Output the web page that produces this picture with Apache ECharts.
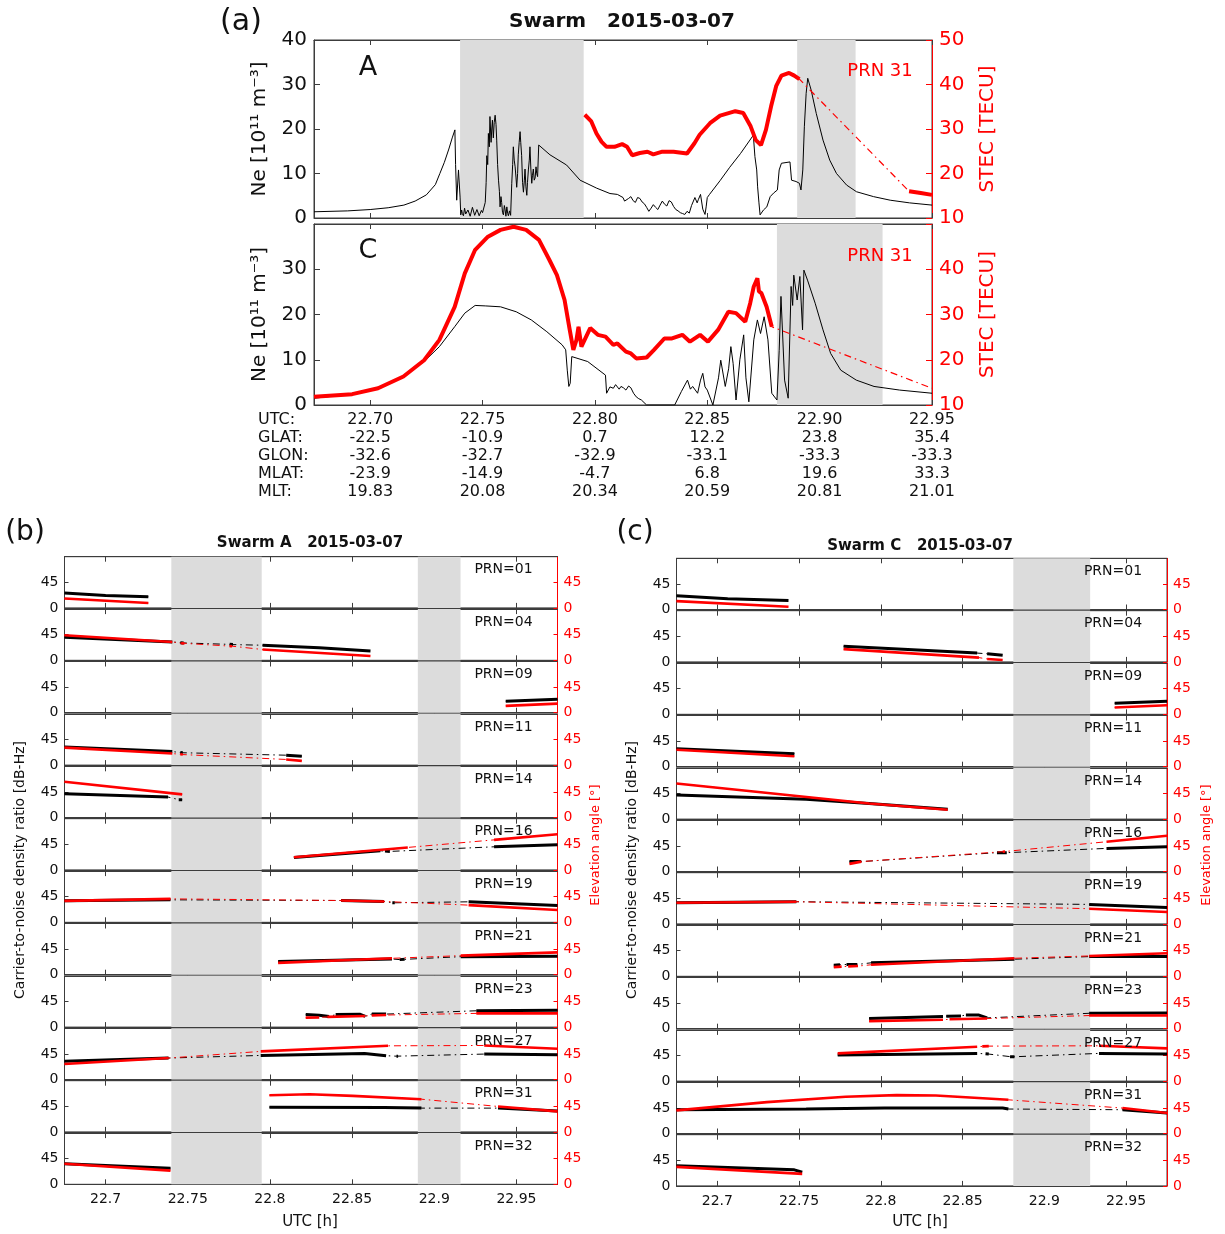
<!DOCTYPE html>
<html><head><meta charset="utf-8">
<script src="https://cdn.jsdelivr.net/npm/echarts@6/dist/echarts.min.js"></script>
<style>html,body{margin:0;padding:0;background:#fff}#chart{width:1225px;height:1234px}</style>
</head><body><div id="chart"></div>
<script>
// ---------------- DATA ----------------
const utcTicks = [22.70, 22.75, 22.80, 22.85, 22.90, 22.95];
const glatRow = ['-22.5', '-10.9', '0.7', '12.2', '23.8', '35.4'];
const glonRow = ['-32.6', '-32.7', '-32.9', '-33.1', '-33.3', '-33.3'];
const mlatRow = ['-23.9', '-14.9', '-4.7', '6.8', '19.6', '33.3'];
const mltRow = ['19.83', '20.08', '20.34', '20.59', '20.81', '21.01'];
const rowHeads = ['UTC:', 'GLAT:', 'GLON:', 'MLAT:', 'MLT:'];
const satTicks = [22.7, 22.75, 22.8, 22.85, 22.9, 22.95];
const satTickLabels = ['22.7', '22.75', '22.8', '22.85', '22.9', '22.95'];
const elevTicks = [0, 45];
const prnNames = ['01', '04', '09', '11', '14', '16', '19', '21', '23', '27', '31', '32'];

const shadeA = [[22.740, 22.795], [22.890, 22.916]];
const shadeC = [[22.881, 22.928]];

// Panel (a) Swarm A: electron density [1e11 m^-3]
const neA = [[22.675,1.4],[22.690,1.6],[22.700,1.9],[22.708,2.3],[22.715,2.9],[22.720,3.8],[22.725,5.2],[22.729,7.5],[22.731,10.0],[22.733,12.5],[22.735,15.5],[22.7365,18.0],[22.7377,19.8],
[22.7380,12.0],[22.7385,4.0],[22.7393,10.8],[22.7400,4.7],[22.7403,0.7],[22.7407,1.8],[22.741,1.0],[22.7415,0.5],[22.742,2.2],[22.7425,0.9],[22.743,0.6],[22.7435,1.8],[22.744,1.5],[22.7445,0.4],[22.745,0.8],[22.7455,2.4],[22.746,2.0],[22.7465,0.6],[22.747,0.7],[22.7475,1.9],[22.748,1.6],[22.7485,0.5],[22.749,0.9],[22.7495,1.7],[22.750,1.2],[22.7508,0.8],
[22.7512,3.5],[22.7516,8],[22.7519,14],[22.7523,12],[22.7526,19],[22.753,16],[22.7533,22.8],[22.7538,17],[22.7541,20],[22.7544,22],[22.7548,18],[22.7552,21.5],[22.7556,23.1],[22.756,21],[22.7563,17.5],[22.7567,12],[22.7571,8.5],[22.7575,6],[22.7578,2.5],[22.7582,4.8],[22.7585,3.5],[22.7589,1.2],[22.7593,0.7],[22.7597,2.8],[22.760,2.0],[22.7604,0.4],[22.7608,2.5],[22.7612,1.0],[22.7615,0.5],[22.762,1.6],[22.7625,0.6],[22.7630,7.8],[22.7634,12],[22.7637,16],[22.7641,13],[22.7645,11.5],[22.7649,9],[22.7652,6.9],[22.7656,10],[22.7659,14.2],[22.7663,17],[22.7667,19.4],[22.767,17],[22.7674,14],[22.7678,8],[22.7682,5.8],[22.7686,8.5],[22.7689,11],[22.7693,7],[22.7697,5.1],[22.770,8],[22.7704,10.8],[22.7708,13],[22.7711,16],[22.7715,11],[22.7719,7.8],[22.7722,9.5],[22.7726,11],[22.773,8.5],[22.7734,9],[22.7738,11.5],[22.7741,10],[22.7745,9.3],[22.7750,16.4],
[22.780,14.2],[22.7874,11.9],[22.7934,8.5],[22.8008,6.7],[22.8067,5.5],[22.810,5.3],
[22.8125,4.6],[22.8132,3.8],[22.814,3.6],[22.815,4.4],[22.816,4.8],[22.817,3.9],[22.818,3.5],[22.819,4.6],[22.820,4.4],[22.821,3.6],[22.822,3.2],[22.823,2.4],[22.824,1.5],[22.825,2.2],[22.826,3.0],[22.827,2.4],[22.828,1.9],[22.829,2.9],[22.830,3.8],[22.831,3.1],[22.832,2.7],[22.833,3.9],[22.834,3.6],[22.835,2.6],[22.836,1.9],[22.837,1.6],[22.838,1.2],[22.839,1.0],[22.840,0.8],[22.841,1.5],[22.842,1.1],[22.843,2.8],[22.8445,4.6],[22.8455,3.4],[22.846,4.1],[22.847,5.3],[22.848,2.0],[22.849,0.8],[22.8495,2.5],[22.850,4.6],[22.851,5.3],
[22.8557,8.4],[22.860,11.4],[22.8648,14.5],[22.8705,18.6],
[22.8712,13.8],[22.8720,10.8],[22.8724,7.0],[22.873,3.4],[22.8735,0.7],[22.875,1.8],[22.8765,2.5],[22.878,4.8],[22.8795,5.6],[22.8812,6.3],[22.882,10.8],[22.883,12.3],[22.8868,12.6],[22.8875,8.5],[22.8895,8.2],[22.891,7.8],[22.8917,6.3],[22.8925,10.8],[22.8932,20.5],[22.894,28],[22.8947,31.4],[22.8962,28.8],[22.8985,23.5],[22.9015,17.5],[22.9045,13.0],[22.9075,10.0],[22.912,7.4],[22.9164,5.9],[22.924,4.8],[22.9314,4.0],[22.940,3.4],[22.950,2.9]];
// Panel (a) Swarm A: STEC PRN 31 [TECU], segments
const stecA = [
 [[22.7955,33.2],[22.7984,31.7],[22.8007,29.0],[22.803,27.1],[22.8052,26.0],[22.8087,26.0],[22.8121,26.6],[22.8143,26.0],[22.8166,24.1],[22.820,24.6],[22.8234,24.9],[22.826,24.3],[22.830,24.9],[22.835,24.9],[22.841,24.5],[22.8443,26.8],[22.8466,28.7],[22.8512,31.3],[22.8557,33.0],[22.8625,34.0],[22.866,33.6],[22.8693,30.6],[22.8716,27.5],[22.8739,26.4],[22.8761,29.8],[22.8784,35.1],[22.8807,39.7],[22.883,42.0],[22.8864,42.6],[22.8887,42.0],[22.891,41.2]],
 [[22.9398,16.0],[22.945,15.6],[22.95,15.2]]];
// Panel (a) Swarm C
const neC = [[22.675,1.5],[22.692,2.4],[22.7035,3.7],[22.7148,6.3],[22.724,9.6],[22.7308,12.9],[22.7376,17.3],[22.7421,20.3],[22.7467,22.0],[22.7512,21.9],[22.758,21.7],[22.765,20.6],[22.7717,18.8],[22.7786,16.2],[22.7854,13.3],[22.787,12.2],[22.7877,7.7],[22.7884,4.1],[22.789,4.8],[22.7897,10.7],[22.7968,9.6],[22.8047,6.6],[22.8052,2.6],[22.8067,4.0],[22.8082,3.7],[22.8092,4.5],[22.810,4.3],[22.8108,3.5],[22.8116,4.1],[22.8127,3.8],[22.8138,3.3],[22.815,4.2],[22.816,3.8],[22.8172,2.6],[22.8184,1.8],[22.8195,1.4],[22.8207,1.1],[22.823,0],[22.8355,0],[22.8385,3.0],[22.8412,5.5],[22.8425,3.5],[22.8435,4.1],[22.8457,2.6],[22.847,5.5],[22.848,7.0],[22.849,4.0],[22.850,3.3],[22.8525,0],[22.855,6.0],[22.856,9.9],[22.858,4.1],[22.8595,8.0],[22.8605,12.9],[22.8615,9.2],[22.8628,1.1],[22.8645,10.0],[22.8662,15.5],[22.8672,6.0],[22.8685,0.7],[22.8707,14.4],[22.8723,18.8],[22.8737,15.8],[22.8753,19.5],[22.877,14.4],[22.8787,2.6],[22.881,1.1],[22.882,12.0],[22.8828,24.0],[22.8844,5.5],[22.886,1.5],[22.8873,26.2],[22.888,22.0],[22.8885,28.7],[22.890,23.2],[22.8912,28.4],[22.8924,16.6],[22.893,29.8],[22.8946,27.6],[22.898,22.5],[22.9015,16.6],[22.9049,11.4],[22.9094,7.7],[22.9163,5.5],[22.9242,4.1],[22.9356,3.3],[22.95,2.6]];
const stecC = [
 [[22.675,11.8],[22.692,12.4],[22.7035,13.7],[22.7148,16.3],[22.724,19.9],[22.7308,24.4],[22.7376,31.7],[22.7421,39.1],[22.7467,44.3],[22.7524,47.2],[22.758,48.7],[22.7638,49.4],[22.7694,48.7],[22.7751,46.5],[22.7797,42.1],[22.7831,38.7],[22.7865,33.2],[22.7888,26.6],[22.7904,22.2],[22.7918,24.4],[22.7927,27.3],[22.794,22.9],[22.7979,27.0],[22.8013,25.5],[22.8047,25.1],[22.8082,23.3],[22.810,23.6],[22.8138,21.8],[22.816,21.4],[22.8184,20.3],[22.823,20.5],[22.8263,22.2],[22.8309,24.7],[22.8343,24.7],[22.8389,25.5],[22.8423,24.0],[22.8468,25.5],[22.8503,24.0],[22.8548,26.6],[22.8594,30.6],[22.8628,30.3],[22.8669,28.4],[22.8691,32.5],[22.8707,36.2],[22.8723,38.0],[22.873,35.1],[22.8741,34.7],[22.8764,31.7],[22.8787,27.3]],
 [[22.95,13.7]]];

// Panel (b) Swarm A: C/N0 [dB-Hz] and elevation [deg], segments per PRN
const sA01_cn0 = [[[22.675,26],[22.700,22],[22.726,19.5]]];
const sA01_el  = [[[22.675,16.4],[22.726,8.5]]];
const sA04_cn0 = [[[22.675,40.4],[22.7406,32.3]],[[22.7455,31],[22.7475,30.5]],[[22.7755,28],[22.7775,27.6]],[[22.7955,26.5],[22.83,22],[22.8612,16.2]]];
const sA04_el  = [[[22.675,44],[22.7406,32.3]],[[22.746,30],[22.748,29.8]],[[22.7755,25],[22.777,24.8]],[[22.7955,19],[22.8612,7.5]]];
const sA09_cn0 = [[[22.9435,20],[22.975,23.5]]];
const sA09_el  = [[[22.9435,12],[22.975,16]]];
const sA11_cn0 = [[[22.675,32],[22.7406,23.8]],[[22.7455,22],[22.747,21.7]],[[22.8099,17.4],[22.8194,15.7]]];
const sA11_el  = [[[22.675,30.8],[22.7406,20.3]],[[22.7455,19],[22.747,18.5]],[[22.8099,9.9],[22.8194,7.5]]];
const sA14_cn0 = [[[22.675,41.8],[22.738,36]],[[22.7445,31.4],[22.7466,31.4]]];
const sA14_el  = [[[22.675,62.7],[22.7466,40.6]]];
const sA16_cn0 = [[[22.8146,22],[22.8672,33.7]],[[22.87,33],[22.873,32.5]],[[22.9364,40.6],[22.975,44]]];
const sA16_el  = [[[22.8146,22.1],[22.8839,39.5]],[[22.9364,52.8],[22.975,62.7]]];
const sA19_cn0 = [[[22.675,37.7],[22.7395,39.5]],[[22.8433,38.3],[22.8695,36.6]],[[22.8745,34.5],[22.876,34.3]],[[22.9209,36],[22.975,29.6]]];
const sA19_el  = [[[22.675,37.7],[22.7395,41.2]],[[22.8433,38.3],[22.8695,36.6]],[[22.9209,30.2],[22.975,21.5]]];
const sA21_cn0 = [[[22.805,23],[22.8743,27.7]],[[22.879,26.5],[22.882,27]],[[22.9161,31.7],[22.975,32.3]]];
const sA21_el  = [[[22.805,20.8],[22.8743,28.8]],[[22.9161,33.5],[22.975,39.2]]];
const sA23_cn0 = [[[22.8218,22.3],[22.83,21],[22.836,18.5]],[[22.84,22],[22.855,22.5],[22.858,19]],[[22.862,23],[22.8707,22.9]],[[22.9256,28.7],[22.975,29.8]]];
const sA23_el  = [[[22.8218,16.6],[22.83,17]],[[22.835,18],[22.858,19.5]],[[22.862,20.5],[22.8707,21.2]],[[22.9256,24.1],[22.975,24.1]]];
const sA27_cn0 = [[[22.675,31.9],[22.7383,37.7]],[[22.7944,42.3],[22.8576,45.9],[22.8707,41.8]],[[22.877,41],[22.878,41]],[[22.9304,44.7],[22.975,43.5]]];
const sA27_el  = [[[22.675,27.3],[22.7383,37.7]],[[22.7944,49.4],[22.8719,59.2]],[[22.9304,59.8],[22.975,54]]];
const sA31_cn0 = [[[22.7997,43.5],[22.8695,43],[22.8922,41.8]],[[22.9388,41.8],[22.975,36.6]]];
const sA31_el  = [[[22.7997,64.4],[22.8242,66.2],[22.8504,63.3],[22.8922,57.5]],[[22.9388,44.7],[22.975,36]]];
const sA32_cn0 = [[[22.675,36],[22.7395,28.2]]];
const sA32_el  = [[[22.675,36],[22.7395,24.1]]];

// Panel (c) Swarm C
const sC01_cn0 = [[[22.675,24.1],[22.7063,18.8],[22.7435,15.9]]];
const sC01_el  = [[[22.675,14.7],[22.7435,4.7]]];
const sC04_cn0 = [[[22.7772,27.5],[22.8589,15.5]],[[22.865,14.3],[22.8745,11.5]]];
const sC04_el  = [[[22.7772,22.4],[22.86,7.5]],[[22.865,5.2],[22.8745,3.4]]];
const sC09_cn0 = [[[22.943,19.5],[22.975,22.9]]];
const sC09_el  = [[[22.943,12.0],[22.975,16]]];
const sC11_cn0 = [[[22.675,31.5],[22.7471,22.9]]];
const sC11_el  = [[[22.675,29.8],[22.7471,18.3]]];
const sC14_cn0 = [[[22.675,42.4],[22.7543,34.8],[22.7928,27.3],[22.8409,17.4]]];
const sC14_el  = [[[22.675,62.7],[22.7928,27.3],[22.8409,16.3]]];
const sC16_cn0 = [[[22.7808,17.4],[22.788,17.4]],[[22.871,33.1],[22.877,33.1]],[[22.938,40.6],[22.975,43.5]]];
const sC16_el  = [[[22.7808,13.4],[22.788,17.4]],[[22.8745,34.8],[22.876,35.2]],[[22.938,52.3],[22.975,62.7]]];
const sC19_cn0 = [[[22.675,37.2],[22.7483,39]],[[22.9274,34.3],[22.975,29.0]]];
const sC19_el  = [[[22.675,37.2],[22.7483,39]],[[22.9274,26.7],[22.975,20.9]]];
const sC21_cn0 = [[[22.7712,19.6],[22.775,20.5]],[[22.779,20.8],[22.7856,20.8]],[[22.794,23.7],[22.8817,30]],[[22.9274,34.6],[22.975,34.6]]];
const sC21_el  = [[[22.7712,16.2],[22.776,17]],[[22.78,17.5],[22.786,18]],[[22.794,20.2],[22.8817,31.7]],[[22.9274,35.8],[22.975,40.4]]];
const sC23_cn0 = [[[22.7928,17.9],[22.838,21.5]],[[22.84,22],[22.849,22.5]],[[22.852,24],[22.86,24],[22.865,19]],[[22.9274,27.1],[22.975,27.7]]];
const sC23_el  = [[[22.7928,13.3],[22.838,15.8]],[[22.842,16.5],[22.865,17.9]],[[22.9274,23.1],[22.975,23.1]]];
const sC27_cn0 = [[[22.7736,45.7],[22.8589,48.7]],[[22.864,48],[22.866,47.5]],[[22.879,43],[22.8817,42.8]],[[22.9334,48.7],[22.975,47.6]]];
const sC27_el  = [[[22.7736,48.7],[22.8589,60.4]],[[22.862,61],[22.866,61.5]],[[22.9334,62.1],[22.975,57.5]]];
const sC31_cn0 = [[[22.675,41.8],[22.7543,43],[22.8023,44.7],[22.8745,44.7],[22.878,43]],[[22.9478,41.8],[22.975,36]]];
const sC31_el  = [[[22.675,40.6],[22.7303,55.2],[22.7784,64.5],[22.8096,67.4],[22.8336,66.8],[22.878,59.2]],[[22.9478,44.7],[22.975,36]]];
const sC32_cn0 = [[[22.675,35.3],[22.7471,28.2],[22.7519,24.1]]];
const sC32_el  = [[[22.675,33.5],[22.7519,21.2]]];

const swarmA_cn0 = [sA01_cn0,sA04_cn0,sA09_cn0,sA11_cn0,sA14_cn0,sA16_cn0,sA19_cn0,sA21_cn0,sA23_cn0,sA27_cn0,sA31_cn0,sA32_cn0];
const swarmA_el  = [sA01_el,sA04_el,sA09_el,sA11_el,sA14_el,sA16_el,sA19_el,sA21_el,sA23_el,sA27_el,sA31_el,sA32_el];
const swarmC_cn0 = [sC01_cn0,sC04_cn0,sC09_cn0,sC11_cn0,sC14_cn0,sC16_cn0,sC19_cn0,sC21_cn0,sC23_cn0,sC27_cn0,sC31_cn0,sC32_cn0];
const swarmC_el  = [sC01_el,sC04_el,sC09_el,sC11_el,sC14_el,sC16_el,sC19_el,sC21_el,sC23_el,sC27_el,sC31_el,sC32_el];

// ---------------- BUILD ----------------
const FONT = 'DejaVu Sans';
const RED = '#ff0000';
const FRAME = '#3c3c3c';
const DASHDOT = [7, 4, 1.5, 4];

const grids = [], xAxes = [], yAxes = [], series = [], graphics = [];

function solidData(segs) {
  const out = [];
  segs.forEach((s, i) => { if (i > 0) out.push([s[0][0], null]); s.forEach(p => out.push(p)); });
  return out;
}
function dashData(segs) { return segs.reduce((a, s) => a.concat(s), []); }

function addGrid(g, xmin, xmax, ticks, xLabel, yL, yR) {
  const gi = grids.length;
  grids.push({ left: g.left, top: g.top, width: g.width, height: g.height, show: true, borderColor: FRAME, borderWidth: 1, containLabel: false });
  const base = { type: 'value', gridIndex: gi, min: xmin, max: xmax, splitLine: { show: false },
    axisLine: { show: true, onZero: false, lineStyle: { color: FRAME, width: 1 } },
    axisTick: { show: true, inside: true, length: 5, customValues: ticks, lineStyle: { color: FRAME } } };
  const xi = xAxes.length;
  xAxes.push(Object.assign({}, base, { position: 'bottom', axisLabel: xLabel || { show: false } }));
  xAxes.push(Object.assign({}, base, { position: 'top', axisLabel: { show: false } }));
  const yi = yAxes.length;
  yAxes.push(Object.assign({ type: 'value', gridIndex: gi, position: 'left', splitLine: { show: false } }, yL));
  yAxes.push(Object.assign({ type: 'value', gridIndex: gi, position: 'right', splitLine: { show: false } }, yR));
  return { xi, yl: yi, yr: yi + 1 };
}

function lineSeries(ax, yIdx, data, color, width, dash, z) {
  return { type: 'line', xAxisIndex: ax.xi, yAxisIndex: yIdx, data, showSymbol: false, symbol: 'none',
    connectNulls: false, silent: true, z: z,
    lineStyle: { color, width, type: dash ? DASHDOT : 'solid', cap: 'butt' } };
}
function shadeArea(shades) {
  return { silent: true, itemStyle: { color: '#dcdcdc' }, data: shades.map(s => [{ xAxis: s[0] }, { xAxis: s[1] }]) };
}

// ---- Panel (a)
const aLeft = 314, aWidth = 618;
function yAxisA(side, min, max, hideTop, name) {
  const black = side === 'left';
  const col = black ? '#111' : RED;
  return { min, max, interval: 10,
    axisLine: { show: true, onZero: false, lineStyle: { color: black ? FRAME : RED } },
    axisTick: { show: true, inside: true, length: 6, lineStyle: { color: black ? FRAME : RED } },
    axisLabel: { color: col, fontSize: 20, fontFamily: FONT, margin: 7,
      formatter: v => (hideTop && v === max) ? '' : String(v) },
    name, nameLocation: 'middle', nameRotate: 90, nameGap: black ? 44 : 46,
    nameTextStyle: { color: col, fontSize: 20, fontFamily: FONT } };
}
const axA = addGrid({ left: aLeft, top: 40, width: aWidth, height: 178 }, 22.675, 22.95, utcTicks, null,
  yAxisA('left', 0, 40, false, 'Ne [10¹¹ m⁻³]'), yAxisA('right', 10, 50, false, 'STEC [TECU]'));
series.push(Object.assign(lineSeries(axA, axA.yl, neA, '#000', 1, false, 3), { markArea: shadeArea(shadeA) }));
series.push(lineSeries(axA, axA.yr, dashData(stecA), RED, 1.2, true, 4));
series.push(lineSeries(axA, axA.yr, solidData(stecA), RED, 4, false, 5));

const tableLabel = { show: true, customValues: utcTicks, fontSize: 16, lineHeight: 18, fontFamily: FONT, color: '#111', margin: 6,
  formatter: v => { const i = utcTicks.findIndex(t => Math.abs(t - v) < 1e-6); if (i < 0) return '';
    return [v.toFixed(2), glatRow[i], glonRow[i], mlatRow[i], mltRow[i]].join('\n'); } };
const axC = addGrid({ left: aLeft, top: 224, width: aWidth, height: 181 }, 22.675, 22.95, utcTicks, tableLabel,
  yAxisA('left', 0, 40, true, 'Ne [10¹¹ m⁻³]'), yAxisA('right', 10, 50, true, 'STEC [TECU]'));
series.push(Object.assign(lineSeries(axC, axC.yl, neC, '#000', 1, false, 3), { markArea: shadeArea(shadeC) }));
series.push(lineSeries(axC, axC.yr, dashData(stecC), RED, 1.2, true, 4));
series.push(lineSeries(axC, axC.yr, solidData(stecC), RED, 4, false, 5));

// ---- Panels (b) and (c)
function satY(side) {
  const black = side === 'left';
  const col = black ? '#111' : RED;
  return { min: 0, max: 90,
    axisLine: { show: true, onZero: false, lineStyle: { color: black ? FRAME : RED } },
    axisTick: { show: true, inside: true, length: 4, customValues: elevTicks, lineStyle: { color: black ? FRAME : RED } },
    axisLabel: { show: true, customValues: elevTicks, color: col, fontSize: 14, fontFamily: FONT, margin: 6 } };
}
function buildSat(lay, cn0List, elList, shades) {
  for (let i = 0; i < 12; i++) {
    const top = lay.top + i * lay.step;
    const last = i === 11;
    const xLabel = last ? { show: true, customValues: satTicks, fontSize: 14, fontFamily: FONT, color: '#111', margin: 8,
      formatter: v => { const k = satTicks.findIndex(t => Math.abs(t - v) < 1e-6); return k < 0 ? '' : satTickLabels[k]; } } : null;
    const ax = addGrid({ left: lay.left, top, width: lay.width, height: lay.h }, 22.675, 22.975, satTicks, xLabel, satY('left'), satY('right'));
    series.push(Object.assign(lineSeries(ax, ax.yl, dashData(cn0List[i]), '#000', 1, true, 2), { markArea: shadeArea(shades) }));
    series.push(lineSeries(ax, ax.yl, solidData(cn0List[i]), '#000', 3, false, 3));
    series.push(lineSeries(ax, ax.yr, dashData(elList[i]), RED, 1, true, 4));
    series.push(lineSeries(ax, ax.yr, solidData(elList[i]), RED, 2.6, false, 5));
    graphics.push({ type: 'text', z: 100, x: lay.left + lay.width - 54, y: top + 13,
      style: { text: 'PRN=' + prnNames[i], fontSize: 14, fontFamily: FONT, fill: '#111', align: 'center', verticalAlign: 'middle' } });
  }
}
const layB = { left: 64.5, width: 493, top: 556.7, step: 52.4, h: 51.2 };
const layC = { left: 676.5, width: 490.5, top: 558.3, step: 52.4, h: 51.2 };
buildSat(layB, swarmA_cn0, swarmA_el, shadeA);
buildSat(layC, swarmC_cn0, swarmC_el, shadeC);

// ---- Text elements
function txt(x, y, text, opt) {
  return { type: 'text', z: 100, x, y, style: Object.assign({ text, fontFamily: FONT, fontSize: 14, fill: '#111', align: 'center', verticalAlign: 'middle' }, opt || {}) };
}
graphics.push(txt(241, 22, '(a)', { fontSize: 30 }));
graphics.push(txt(622, 22, 'Swarm   2015-03-07', { fontSize: 20, fontWeight: 'bold' }));
graphics.push(txt(368, 68, 'A', { fontSize: 27 }));
graphics.push(txt(368, 251, 'C', { fontSize: 27 }));
graphics.push(txt(880, 71, 'PRN 31', { fontSize: 18, fill: RED }));
graphics.push(txt(880, 256, 'PRN 31', { fontSize: 18, fill: RED }));
graphics.push({ type: 'text', z: 100, x: 258, y: 411, style: { text: rowHeads.join('\n'), fontFamily: FONT, fontSize: 16, lineHeight: 18, fill: '#111', align: 'left', verticalAlign: 'top' } });
graphics.push(txt(25, 533, '(b)', { fontSize: 28 }));
graphics.push(txt(310, 543, 'Swarm A   2015-03-07', { fontSize: 15, fontWeight: 'bold' }));
graphics.push(txt(635, 533, '(c)', { fontSize: 28 }));
graphics.push(txt(920, 546, 'Swarm C   2015-03-07', { fontSize: 15, fontWeight: 'bold' }));
graphics.push(txt(310, 1222, 'UTC [h]', { fontSize: 15 }));
graphics.push(txt(920, 1222, 'UTC [h]', { fontSize: 15 }));
graphics.push(Object.assign(txt(20, 870, 'Carrier-to-noise density ratio [dB-Hz]', { fontSize: 14 }), { rotation: Math.PI / 2 }));
graphics.push(Object.assign(txt(596, 845, 'Elevation angle [°]', { fontSize: 13, fill: RED }), { rotation: Math.PI / 2 }));
graphics.push(Object.assign(txt(632, 870, 'Carrier-to-noise density ratio [dB-Hz]', { fontSize: 14 }), { rotation: Math.PI / 2 }));
graphics.push(Object.assign(txt(1207, 845, 'Elevation angle [°]', { fontSize: 13, fill: RED }), { rotation: Math.PI / 2 }));

const chart = echarts.init(document.getElementById('chart'), null, { renderer: 'canvas' });
chart.setOption({
  animation: false,
  backgroundColor: '#ffffff',
  textStyle: { fontFamily: FONT },
  grid: grids, xAxis: xAxes, yAxis: yAxes, series: series,
  graphic: { elements: graphics }
});
</script></body></html>
